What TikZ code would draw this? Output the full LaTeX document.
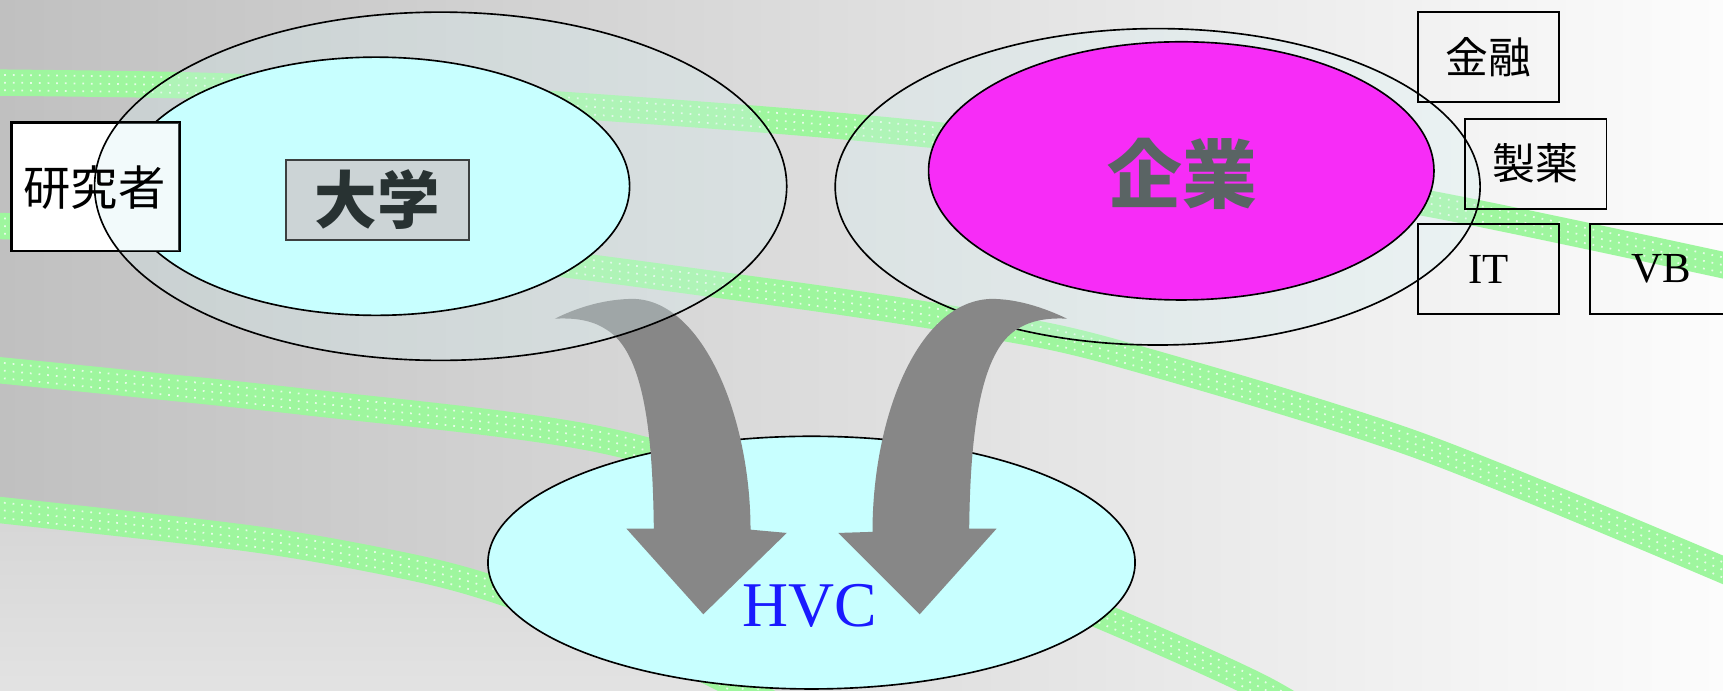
\documentclass[tikz,border=0pt]{standalone}
\usepackage{fontspec}
\setmainfont{Liberation Serif}
\newfontfamily\cjk{Noto Sans CJK JP}
\usetikzlibrary{shapes.geometric}
\definecolor{bgL}{RGB}{192,192,192}
\definecolor{bgR}{RGB}{252,252,252}
\definecolor{lowT}{RGB}{214,214,214}
\definecolor{lowB}{RGB}{229,229,229}
\definecolor{stripeG}{RGB}{158,246,158}
\definecolor{cyanF}{RGB}{200,255,255}
\definecolor{ringF}{RGB}{215,240,242}
\definecolor{magF}{RGB}{247,44,247}
\definecolor{arrowG}{RGB}{135,135,135}
\definecolor{dgBox}{RGB}{204,212,214}
\definecolor{dgLine}{RGB}{60,64,64}
\definecolor{dgText}{RGB}{40,50,50}
\definecolor{corpText}{RGB}{90,100,100}
\definecolor{hvcBlue}{RGB}{26,26,255}
\newcommand\greenstripes[1]{%
  \draw[#1] plot[smooth] coordinates {(-20,75) (182,78) (400,88) (746,113) (1050,145) (1304,186) (1590,246)};
  \draw[#1] plot[smooth] coordinates {(-20,205) (350,222) (704,266) (900,296) (1019,322) (1290,405) (1590,528)};
  \draw[#1] plot[smooth] coordinates {(-20,335) (271,365) (546,400) (780,470) (1001,560) (1146,625) (1220,670)};
  \draw[#1] plot[smooth] coordinates {(-20,462) (227,490) (364,514) (449,536) (600,590) (720,650)};}
\begin{document}
\begin{tikzpicture}[x=0.02cm,y=-0.02cm,
  stripe/.style={line width=0.48cm, draw=stripeG},
  dotrow/.style={line width=0.9pt, draw=white, draw opacity=0.75, dash pattern=on 0.9pt off 3.6pt},
  ring/.style={ellipse, inner sep=0pt, draw=black, line width=0.85pt, fill=ringF, fill opacity=0.3, draw opacity=1},
  blob/.style={ellipse, inner sep=0pt, draw=black, line width=0.85pt},
  tag/.style={rectangle, inner sep=0pt, draw=black, line width=1pt, minimum width=2.58cm, minimum height=1.64cm},
  cjktag/.style={tag, font=\cjk\fontsize{22.2}{24}\selectfont},
  lattag/.style={tag, font=\fontsize{22.2}{24}\selectfont},
  bigarrow/.style={fill=arrowG, draw=none}]
\useasboundingbox (0,0) rectangle (1568,628);
\clip (0,0) rectangle (1568,628);
% background
\shade[left color=bgL, right color=bgR] (0,0) rectangle (1568,628);
\shade[top color=lowT, bottom color=lowB] plot[smooth] coordinates {(0,464) (227,490) (364,514) (449,536) (600,590) (720,650)} -- (720,660) -- (0,660) -- cycle;
% green stripes with white dot texture
\greenstripes{stripe}
\foreach \dy in {-0.14,0,0.14}{\greenstripes{dotrow, yshift=\dy cm}}
% HVC
\node[blob, fill=cyanF, minimum width=11.78cm, minimum height=4.6cm] (hvc) at (738.5,512) {};
% company side
\node[ring, minimum width=11.74cm, minimum height=5.76cm] (corpring) at (1053.5,170) {};
\node[blob, fill=magF, minimum width=9.2cm, minimum height=4.7cm] (corp) at (1075,155.5) {};
\node[font=\cjk\bfseries\fontsize{38.7}{40}\selectfont, text=corpText, inner sep=0pt] (corpl) at (1076,158) {企業};
\node[cjktag] (kin) at (1354.5,52) {金融};
\node[cjktag] (sei) at (1397.5,149) {製薬};
\node[lattag] (it) at (1354.5,245) {IT};
\node[lattag] (vb) at (1511.5,245) {VB};
% arrows
\fill[bigarrow] (505,290) .. controls (525,280) and (550,272) .. (577,272)
  .. controls (640,274) and (683,380) .. (683,482)
  -- (716,485) -- (640,559) -- (570,481) -- (595,481)
  .. controls (594,390) and (585,320) .. (552,300)
  .. controls (540,292) and (525,289) .. (505,290) -- cycle;
\fill[bigarrow] (971,290) .. controls (950,280) and (926,272) .. (902,272)
  .. controls (835,274) and (794,380) .. (794,484)
  -- (763,485) -- (837,559) -- (907,481) -- (882,481)
  .. controls (883,390) and (893,320) .. (925,300)
  .. controls (937,292) and (952,289) .. (971,290) -- cycle;
% university side
\node[ring, minimum width=12.6cm, minimum height=6.34cm] (univring) at (401,169.5) {};
\node[blob, fill=cyanF, minimum width=9.24cm, minimum height=4.7cm] (univ) at (342,169.5) {};
\node[rectangle, fill=white, draw=black, line width=1pt, inner sep=0pt, minimum width=3.04cm, minimum height=2.32cm] (res) at (87,170) {};
\begin{scope}
  \clip (res.north west) rectangle (res.south east);
  \fill[ringF, fill opacity=0.3] (univring.center) ellipse [x radius=6.3cm, y radius=3.17cm];
  \draw[black, line width=0.85pt] (univring.center) ellipse [x radius=6.3cm, y radius=3.17cm];
\end{scope}
\draw[black, line width=1pt] (res.north west) rectangle (res.south east);
\node[font=\cjk\fontsize{24.5}{26}\selectfont, inner sep=0pt] (resl) at (86,171) {研究者};
\node[rectangle, fill=dgBox, draw=dgLine, line width=1pt, inner sep=0pt, minimum width=3.34cm, minimum height=1.44cm, font=\cjk\bfseries\fontsize{32.4}{34}\selectfont, text=dgText] (dg) at (343.5,182) {大学};
\node[font=\fontsize{33}{35}\selectfont, text=hvcBlue, inner sep=0pt] (hvcl) at (737,551) {HVC};
\end{tikzpicture}
\end{document}
